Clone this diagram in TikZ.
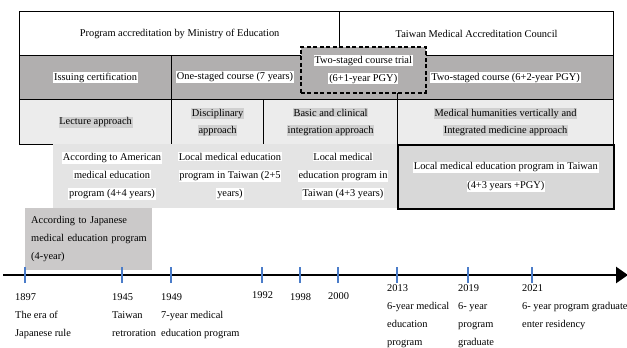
\documentclass[tikz,border=0pt]{standalone}
\usepackage{fontspec}
\setmainfont{Liberation Serif}
\usepackage{tikz}
\usetikzlibrary{arrows.meta, positioning}

\definecolor{rowgray}{HTML}{B1AFAF}
\definecolor{rowlight}{HTML}{ECECEC}
\definecolor{hlgray}{HTML}{D0D0D0}
\definecolor{rowpale}{HTML}{E4E4E4}
\definecolor{boxgray}{HTML}{D8D8D8}
\definecolor{japgray}{HTML}{CBC9C9}
\definecolor{tickblue}{HTML}{4A7CC9}

% text with a coloured backing
\newcommand{\hlt}[2][white]{{\setlength{\fboxsep}{0.8pt}\colorbox{#1}{#2}}}

\begin{document}
\begin{tikzpicture}[x=1pt, y=-1pt,
  cell/.style={draw, line width=1.2pt, anchor=north west, inner sep=0pt, align=center, font=\fontsize{10.4}{18}\selectfont},
  plain/.style={inner sep=0pt, align=center, font=\fontsize{10.4}{18}\selectfont},
  tick/.style={draw=tickblue, line width=1.2pt},
  axis/.style={line width=2.6pt, -{Triangle[length=12pt, width=16pt]}},
  when/.style={anchor=north west, inner sep=0pt, align=left, font=\fontsize{10.4}{18}\selectfont},
]
\useasboundingbox (0,0) rectangle (627,348);

% Accreditation
\node[cell, fill=white, minimum width=320pt, minimum height=44pt] (moe) at (19,11) {Program accreditation by Ministry of Education};
\node[cell, fill=white, minimum width=274pt, minimum height=44pt] (tmac) at (339,11) {Taiwan Medical Accreditation Council};

% Course system
\node[cell, fill=rowgray, minimum width=152pt, minimum height=44pt] (cert) at (19,55) {\hlt{Issuing certification}};
\node[cell, fill=rowgray, minimum width=226pt, minimum height=44pt] (onestage) at (171,55) {};
\node[plain] (onestagetxt) at (235,77) {\hlt{One-staged course (7 years)}};
\node[cell, fill=rowgray, minimum width=216pt, minimum height=44pt] (twostage) at (397,55) {\hlt{Two-staged course (6+2-year PGY)}};
\node[cell, fill=rowgray, line width=1.5pt, dash pattern=on 4pt off 2.5pt, minimum width=125pt, minimum height=46pt] (trial) at (300,46) {\hlt{Two-staged course trial}\\\hlt{(6+1-year PGY)}};

% Teaching approach
\node[cell, fill=rowlight, minimum width=152pt, minimum height=45pt] (lecture) at (19,99) {\hlt[hlgray]{Lecture approach}};
\node[cell, fill=rowlight, minimum width=92pt, minimum height=45pt, font=\fontsize{10.4}{17}\selectfont] (disc) at (171,99) {\hlt[hlgray]{Disciplinary}\\\hlt[hlgray]{approach}};
\node[cell, fill=rowlight, minimum width=134pt, minimum height=45pt, font=\fontsize{10.4}{17}\selectfont] (basic) at (263,99) {\hlt[hlgray]{Basic and clinical}\\\hlt[hlgray]{integration approach}};
\node[cell, fill=rowlight, minimum width=216pt, minimum height=45pt, font=\fontsize{10.4}{17}\selectfont] (humane) at (397,99) {\hlt[hlgray]{Medical humanities vertically and}\\\hlt[hlgray]{Integrated medicine approach}};

% Programs
\node[anchor=north west, fill=rowpale, inner sep=0pt, minimum width=344pt, minimum height=64pt] (progback) at (53,144) {};
\node[plain] (american) at (112,176) {\hlt{According to American}\\\hlt{medical education}\\\hlt{program (4+4 years)}};
\node[plain] (local25) at (230,176) {\hlt{Local medical education}\\\hlt{program in Taiwan (2+5}\\\hlt{years)}};
\node[plain] (local43) at (343,176) {\hlt{Local medical}\\\hlt{education program in}\\\hlt{Taiwan (4+3 years)}};
\node[cell, fill=boxgray, line width=1.6pt, minimum width=216pt, minimum height=64pt, font=\fontsize{10.4}{19}\selectfont] (localpgy) at (397,144) {\hlt{Local medical education program in Taiwan}\\\hlt{(4+3 years +PGY)}};
\node[anchor=north west, fill=japgray, inner xsep=6pt, inner ysep=0pt, text width=115pt, minimum height=62pt, align=left, font=\fontsize{10.4}{18}\selectfont] (japan) at (25,208) {According to Japanese\\\mbox{medical education program}\\(4-year)};

% Timeline
\coordinate (start) at (3,275);
\coordinate (stop) at (628,275);
\draw[axis] (start) -- (stop);
\foreach \yr/\px in {1897/25, 1945/122, 1949/171, 1992/262, 1998/300, 2000/338, 2013/397, 2019/468, 2021/532} {
  \coordinate (t\yr) at (\px,275);
  \draw[tick] ([yshift=-8pt]t\yr) -- ([yshift=8pt]t\yr);
}

% Years
\node[when] (y1897) at (15,293.5) {1897\\The era of\\Japanese rule};
\node[when] (y1945) at (112,293.5) {1945\\Taiwan\\retroration};
\node[when] (y1949) at (161,293.5) {1949\\7-year medical\\education program};
\node[when] (y1992) at (252,291.5) {1992};
\node[when] (y1998) at (290,293.5) {1998};
\node[when] (y2000) at (328,292.5) {2000};
\node[when] (y2013) at (387,284.5) {2013\\6-year medical\\education\\program};
\node[when] (y2019) at (458,284.5) {2019\\6- year\\program\\graduate};
\node[when] (y2021) at (522,284.5) {2021\\6- year program graduates\\enter residency};
\end{tikzpicture}
\end{document}
